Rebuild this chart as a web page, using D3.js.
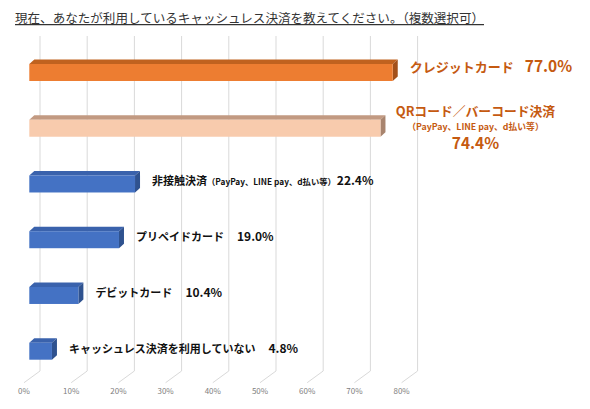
<!DOCTYPE html>
<html>
<head>
<meta charset="utf-8">
<script src="https://cdn.jsdelivr.net/npm/d3@7"></script>
<style>
  body { margin: 0; background: #fff; }
  text { font-family: "Noto Sans CJK JP", "Noto Sans", sans-serif; }
</style>
</head>
<body>
<script>
// データ
const categories = ["クレジットカード", "QRコード／バーコード決済", "非接触決済", "プリペイドカード", "デビットカード", "キャッシュレス決済を利用していない"];
const values = [77.0, 74.4, 22.4, 19.0, 10.4, 4.8];
const subLabels = ["", "（PayPay、LINE pay、d払い等）", "（PayPay、LINE pay、d払い等）", "", "", ""];
const ticks = [0, 10, 20, 30, 40, 50, 60, 70, 80];
const title = "現在、あなたが利用しているキャッシュレス決済を教えてください。（複数選択可）";

const width = 590, height = 409;
const svg = d3.select("body").append("svg")
    .attr("width", width)
    .attr("height", height);

// 奥の面のスケール (グリッド線)
const xBack = d3.scaleLinear().domain([0, 80]).range([40, 417.6]);
// 棒の前面
const depthBar = 10.7;
const xF = v => xBack(v) - depthBar;
const y = d3.scalePoint().domain(categories).range([64, 342.7]);
const barH = 17, dx = 5, dy = -4.5;
const gridTop = 36, gridBottom = 371, floorDx = -16, floorDy = 11.7;

// タイトル
svg.append("text")
    .attr("x", 15).attr("y", 23)
    .attr("font-size", 12.4)
    .attr("fill", "#333")
    .attr("text-decoration", "underline")
    .attr("textLength", 469)
    .attr("lengthAdjust", "spacingAndGlyphs")
    .text(title);

// グリッド線
const grid = svg.append("g");
grid.selectAll("path").data(ticks).join("path")
    .attr("d", d => `M${xBack(d)},${gridTop}V${gridBottom}L${xBack(d) + floorDx},${gridBottom + floorDy}`)
    .attr("fill", "none")
    .attr("stroke", "#d9d9d9")
    .attr("stroke-width", 1);

grid.selectAll("text").data(ticks).join("text")
    .attr("x", d => xBack(d) + floorDx)
    .attr("y", 394)
    .attr("text-anchor", "middle")
    .attr("font-size", 8)
    .attr("fill", "#808080")
    .text(d => d + "%");

// 色
const colors = categories.map((c, i) => i === 0 ? ["#ED7D31", "#C0621F", "#A3511B"]
    : i === 1 ? ["#F8CBAD", "#C29A82", "#A8846E"]
    : ["#4472C4", "#3A62AC", "#2F528F"]);

// 3D棒
const bars = svg.append("g").selectAll("g").data(categories).join("g");

bars.append("path") // 上面
    .attr("d", (d, i) => {
        const x0 = xF(0), x1 = xF(values[i]), t = y(d);
        return `M${x0},${t}L${x0 + dx},${t + dy}L${x1 + dx},${t + dy}L${x1},${t}Z`;
    })
    .attr("fill", (d, i) => colors[i][1]);

bars.append("path") // 側面
    .attr("d", (d, i) => {
        const x1 = xF(values[i]), t = y(d);
        return `M${x1},${t}L${x1 + dx},${t + dy}L${x1 + dx},${t + dy + barH}L${x1},${t + barH}Z`;
    })
    .attr("fill", (d, i) => colors[i][2]);

bars.append("rect") // 前面
    .attr("x", xF(0))
    .attr("y", d => y(d))
    .attr("width", (d, i) => xF(values[i]) - xF(0))
    .attr("height", barH)
    .attr("fill", (d, i) => colors[i][0]);

// ラベル
const fmt = d3.format(".1f");
const labelX = i => xF(values[i]) + dx + 12;

// クレジットカード
const t0 = svg.append("text")
    .attr("x", labelX(0)).attr("y", y(categories[0]) + 8)
    .attr("fill", "#C55A11").attr("font-weight", "bold");
t0.append("tspan").attr("font-size", 13).text(categories[0]);
t0.append("tspan").attr("dx", 11).attr("font-size", 15.5).text(fmt(values[0]) + "%");

// QRコード
const cx1 = xF(values[1]) + dx + 90, t1 = y(categories[1]);
svg.append("text")
    .attr("x", cx1).attr("y", t1 - 3.3)
    .attr("text-anchor", "middle").attr("fill", "#C55A11")
    .attr("font-weight", "bold").attr("font-size", 12.8)
    .text(categories[1]);
svg.append("text")
    .attr("x", cx1).attr("y", t1 + 10)
    .attr("text-anchor", "middle").attr("fill", "#C55A11")
    .attr("font-weight", "bold").attr("font-size", 8.8)
    .text(subLabels[1]);
svg.append("text")
    .attr("x", cx1).attr("y", t1 + 29)
    .attr("text-anchor", "middle").attr("fill", "#C55A11")
    .attr("font-weight", "bold").attr("font-size", 15.5)
    .text(fmt(values[1]) + "%");

// その他
categories.slice(2).forEach((c, k) => {
    const i = k + 2;
    const t = svg.append("text")
        .attr("x", labelX(i)).attr("y", y(c) + 10)
        .attr("fill", "#111").attr("font-weight", "bold");
    t.append("tspan").attr("font-size", 11).text(c);
    if (subLabels[i]) {
        t.append("tspan").attr("font-size", 8.3).text(subLabels[i]);
        t.append("tspan").attr("dx", 1).attr("font-size", 12).text(fmt(values[i]) + "%");
    } else {
        t.append("tspan").attr("dx", 13).attr("font-size", 12).text(fmt(values[i]) + "%");
    }
});
</script>
</body>
</html>
